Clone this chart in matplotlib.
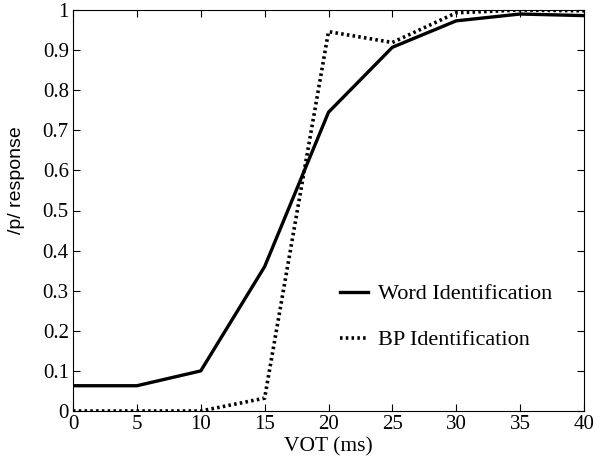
import matplotlib.pyplot as plt
import numpy as np

# VOT steps (ms) and identification curves
vot = [0, 5, 10, 15, 20, 25, 30, 35, 40]
word_id = [0.063, 0.063, 0.10, 0.36, 0.745, 0.907, 0.973, 0.99, 0.986]
bp_id = [0.0, 0.0, 0.0, 0.032, 0.946, 0.919, 0.993, 1.0, 0.998]

xticks = [0, 5, 10, 15, 20, 25, 30, 35, 40]
yticks = [0, 0.1, 0.2, 0.3, 0.4, 0.5, 0.6, 0.7, 0.8, 0.9, 1]
ytick_labels = ["0", "0.1", "0.2", "0.3", "0.4", "0.5", "0.6", "0.7", "0.8", "0.9", "1"]

plt.rcParams['font.family'] = ['Liberation Serif', 'DejaVu Serif']

fig = plt.figure(figsize=(6.02, 4.66), dpi=100)
ax = fig.add_axes([73/602, 1 - 411/466, (584-73)/602, (411-10)/466])

ax.plot(vot, word_id, color='black', lw=2.4, label='Word Identification')
ax.plot(vot, bp_id, color='black', lw=2.6, linestyle=(0, (0.7, 0.9)),
        label='BP Identification')

ax.set_xlim(0, 40)
ax.set_ylim(0, 1)
ax.set_xticks(xticks)
ax.set_yticks(yticks)
ax.set_yticklabels(ytick_labels)
ax.tick_params(direction='in', length=5, width=0.8, labelsize=15,
               top=True, right=True, pad=3)
for s in ax.spines.values():
    s.set_linewidth(0.8)

ax.set_xlabel('VOT (ms)', fontsize=15.5, labelpad=2)
ax.set_ylabel('/p/ response', fontsize=14, family=['Liberation Sans', 'DejaVu Sans'])
ax.yaxis.set_label_coords(-0.094, 0.576)

leg = ax.legend(loc='upper left', bbox_to_anchor=(0.483, 0.367), frameon=False,
                fontsize=16, handlelength=1.26, labelspacing=1.15, handletextpad=0.45)

fig.savefig('out.png', dpi=100)
